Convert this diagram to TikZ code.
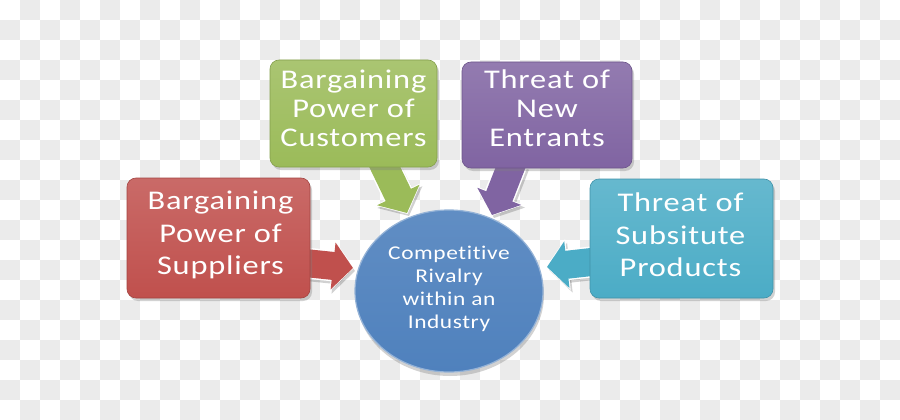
\documentclass[tikz,border=0pt]{standalone}
\usepackage{fontspec}
\usetikzlibrary{shapes.geometric,arrows.meta,shadows,calc}
\newfontfamily\dfont[FakeStretch=1.2,LetterSpace=3,Ligatures=CommonOff]{Carlito}
\definecolor{cred}{HTML}{C0504D}
\definecolor{cgreen}{HTML}{9BBB59}
\definecolor{cpurple}{HTML}{8064A2}
\definecolor{cteal}{HTML}{4BACC6}
\definecolor{cblue}{HTML}{4F81BD}
\definecolor{checkgray}{HTML}{EBEBEB}
\pgfdeclarelayer{checker}
\pgfdeclarelayer{arrowlayer}
\pgfsetlayers{checker,arrowlayer,main}
\tikzset{
  forcebox/.style={rectangle, rounded corners=9pt,
    top color=#1!85!white, bottom color=#1, draw=#1!85!black, line width=0.6pt,
    drop shadow={shadow xshift=2pt, shadow yshift=-3pt, opacity=0.35}},
  boxtext/.style={text=white, align=center, inner sep=0pt,
    font=\dfont\fontsize{27}{32.5}\selectfont},
  boxtexttight/.style={boxtext, font=\dfont\fontsize{27}{29}\selectfont},
  hubnode/.style={ellipse, inner sep=0pt,
    top color=cblue!90!white, bottom color=cblue, draw=cblue!60!white, line width=1.2pt,
    drop shadow={shadow xshift=1pt, shadow yshift=-4pt, opacity=0.35}},
  hubtext/.style={text=white, align=center, inner sep=0pt,
    font=\dfont\fontsize{19.5}{23}\selectfont},
  blockarrow/.style={line width=28pt, draw=#1, -{Triangle[length=20pt,width=46pt]}},
  arrowedge/.style={line width=31pt, draw=white, -{Triangle[length=22pt,width=50pt]}},
  arrowshade/.style={line width=30pt, draw=black, opacity=0.18, -{Triangle[length=21pt,width=49pt]}}
}
\begin{document}
\begin{tikzpicture}[x=1pt,y=-1pt]
\useasboundingbox (0,0) rectangle (900,420);
\begin{pgfonlayer}{checker}
  \fill[white] (0,0) rectangle (900,420);
  \foreach \i in {0,...,44}{
    \foreach \j in {0,...,20}{
      \pgfmathparse{int(mod(\i+\j,2))}
      \ifnum\pgfmathresult=1
        \fill[checkgray] (\i*20,\j*20) rectangle ++(20,20);
      \fi
    }
  }
\end{pgfonlayer}

\node[forcebox=cred, minimum width=183pt, minimum height=120pt] (red) at (218.5,238) {};
\node[forcebox=cgreen, minimum width=167pt, minimum height=107pt] (green) at (353.5,113.5) {};
\node[forcebox=cpurple, minimum width=170pt, minimum height=106pt] (purple) at (547,115) {};
\node[forcebox=cteal, minimum width=183pt, minimum height=119pt] (teal) at (681.5,238.5) {};
\node[hubnode, minimum width=188pt, minimum height=162pt] (hub) at (449,291) {};

\node[boxtext] (redtxt) at ($(red.center)+(2,-3)$) {Bargaining\\Power of\\Suppliers};
\node[boxtexttight] (greentxt) at ($(green.center)+(0,-5.5)$) {Bargaining\\Power of\\Customers};
\node[boxtexttight] (purpletxt) at ($(purple.center)+(0,-7)$) {Threat of\\New\\Entrants};
\node[boxtext] (tealtxt) at ($(teal.center)+(-1,-3.5)$) {Threat of\\Subsitute\\Products};
\node[hubtext] (hubtxt) at ($(hub.center)+(0,-2)$) {Competitive\\Rivalry\\within an\\Industry};

\coordinate (sR) at ($(red.east)+(-15,24)$);
\coordinate (tR) at (353,268);
\coordinate (sG) at ($(green.south)+(28,-7)$);
\coordinate (tG) at (407,213);
\coordinate (sP) at ($(purple.south)+(-34,-7)$);
\coordinate (tP) at (492,215);
\coordinate (sT) at ($(teal.west)+(15,22)$);
\coordinate (tT) at (547,267);

\begin{pgfonlayer}{arrowlayer}
  \draw[arrowshade] ($(sR)+(2,3)$) -- ($(tR)+(2,3)$);
  \draw[arrowshade] ($(sG)+(2,3)$) -- ($(tG)+(2,3)$);
  \draw[arrowshade] ($(sP)+(2,3)$) -- ($(tP)+(2,3)$);
  \draw[arrowshade] ($(sT)+(2,3)$) -- ($(tT)+(2,3)$);
  \draw[arrowedge] (sR) -- ($(tR)+(1,0)$);
  \draw[arrowedge] (sG) -- ($(tG)+(0.5,1)$);
  \draw[arrowedge] (sP) -- ($(tP)+(-0.5,1)$);
  \draw[arrowedge] (sT) -- ($(tT)+(-1,0)$);
  \draw[blockarrow=cred] (sR) -- (tR);
  \draw[blockarrow=cgreen] (sG) -- (tG);
  \draw[blockarrow=cpurple] (sP) -- (tP);
  \draw[blockarrow=cteal] (sT) -- (tT);
\end{pgfonlayer}
\end{tikzpicture}
\end{document}
